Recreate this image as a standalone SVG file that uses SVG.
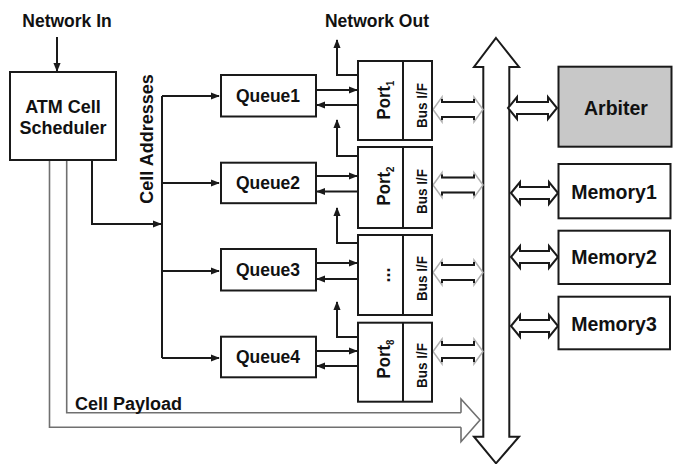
<svg xmlns="http://www.w3.org/2000/svg" width="673" height="464" viewBox="0 0 673 464">
<style>
.box{fill:#fff;stroke:#1a1a1a;stroke-width:2}
.gbox{fill:#c8c8c8;stroke:#1a1a1a;stroke-width:2}
.ln{fill:none;stroke:#1a1a1a;stroke-width:2}
.arr{fill:none;stroke:#1a1a1a;stroke-width:2;marker-end:url(#ah)}
.pay{fill:none;stroke:#707070;stroke-width:1.6}
.t{font-family:"Liberation Sans",Arial,sans-serif;font-weight:bold;fill:#111;text-anchor:middle}
.dbl{fill:#fff;stroke:#1a1a1a;stroke-width:2}
.dblg{fill:#fff;stroke:#b0b0b0;stroke-width:1.5}
</style>
<defs>
<marker id="ah" viewBox="0 0 10 10" refX="9" refY="5" markerWidth="4.5" markerHeight="4.5" orient="auto" markerUnits="strokeWidth">
<path d="M0,1 L10,5 L0,9 Z" fill="#1a1a1a"/>
</marker>
</defs>

<g id="connectors">
<!-- network in -->
<path class="arr" d="M57,37 V71"/>
<!-- cell addresses -->
<path class="arr" d="M92,160 V224 H161"/>
<path class="ln" d="M162,96 V358"/>
<path class="arr" d="M162,96 H219"/>
<path class="arr" d="M162,183 H219"/>
<path class="arr" d="M162,271 H219"/>
<path class="arr" d="M162,358 H219"/>
<!-- queue <-> port -->
<path class="arr" d="M316,90 H357"/>
<path class="arr" d="M358,105 H317"/>
<path class="arr" d="M316,176 H357"/>
<path class="arr" d="M358,191.5 H317"/>
<path class="arr" d="M316,263 H357"/>
<path class="arr" d="M358,279 H317"/>
<path class="arr" d="M316,351 H357"/>
<path class="arr" d="M358,366 H317"/>
<!-- network out -->
<path class="arr" d="M358,75 H337 V40"/>
<path class="arr" d="M358,156 H337 V120"/>
<path class="arr" d="M358,243 H337 V208"/>
<path class="arr" d="M358,337 H337 V302"/>
<!-- cell payload -->
<path class="pay" d="M49.5,160 V427.3 H461"/>
<path class="pay" d="M66.7,160 V412.7 H461"/>
<path class="pay" d="M461,412.7 V399 L480,420 L461,441.7 V427.3"/>
<!-- bus -->
<polygon class="dbl" points="496,38 519,67 509.3,67 509.3,436.7 519,436.7 496,463.3 474,436.7 483.3,436.7 483.3,67 474,67"/>
<!-- port to bus double arrows -->
<polygon class="dblg" points="433,109.5 442,97 442,102 474,102 474,97 483,109.5 474,122 474,117 442,117 442,122"/>
<path class="ln" d="M442,99 V102 H474 V99 M442,120 V117 H474 V120"/>
<polygon class="dblg" points="433,185 442,172.5 442,177.5 474,177.5 474,172.5 483,185 474,197.5 474,192.5 442,192.5 442,197.5"/>
<path class="ln" d="M442,174.5 V177.5 H474 V174.5 M442,195.5 V192.5 H474 V195.5"/>
<polygon class="dblg" points="433,272.5 442,260 442,265 474,265 474,260 483,272.5 474,285 474,280 442,280 442,285"/>
<path class="ln" d="M442,262 V265 H474 V262 M442,283 V280 H474 V283"/>
<polygon class="dblg" points="433,351.5 442,339 442,345 474,345 474,339 483,351.5 474,364 474,358 442,358 442,364"/>
<path class="ln" d="M442,341 V345 H474 V341 M442,362 V358 H474 V362"/>
<!-- bus to arbiter/memories -->
<polygon class="dbl" points="508,108 517,97 517,102 548,102 548,97 557,108 548,119 548,114 517,114 517,119"/>
<polygon class="dbl" points="511,193 520,182 520,187 549,187 549,182 558,193 549,204 549,199 520,199 520,204"/>
<polygon class="dbl" points="511,257 520,246 520,251 549,251 549,246 558,257 549,268 549,263 520,263 520,268"/>
<polygon class="dbl" points="511,326 520,315 520,320 549,320 549,315 558,326 549,337 549,332 520,332 520,337"/>
</g>

<g id="network-in"><text class="t" x="67" y="27" font-size="17.5">Network In</text></g>
<g id="network-out"><text class="t" x="377" y="26.5" font-size="17.5">Network Out</text></g>

<g id="scheduler">
<rect class="box" x="10" y="72" width="106" height="88"/>
<text class="t" x="63" y="112.5" font-size="18">ATM Cell</text>
<text class="t" x="63" y="133.5" font-size="18">Scheduler</text>
</g>

<g id="cell-addresses"><text class="t" font-size="18" transform="translate(153,139) rotate(-90)">Cell Addresses</text></g>

<g id="queue1"><rect class="box" x="221" y="75" width="95" height="41.5"/><text class="t" x="268" y="102" font-size="17.5">Queue1</text></g>
<g id="queue2"><rect class="box" x="221" y="162.7" width="95" height="40.5"/><text class="t" x="268" y="189" font-size="17.5">Queue2</text></g>
<g id="queue3"><rect class="box" x="221" y="249" width="95" height="41.5"/><text class="t" x="268" y="276" font-size="17.5">Queue3</text></g>
<g id="queue4"><rect class="box" x="221" y="336.7" width="95" height="40.6"/><text class="t" x="268" y="363" font-size="17.5">Queue4</text></g>

<g id="port1">
<rect class="box" x="358" y="61" width="74" height="79"/>
<path class="ln" d="M403,61 V140"/>
<text class="t" font-size="19" transform="translate(389.5,100) rotate(-90) scale(0.88,1)">Port<tspan font-size="11" dy="4">1</tspan></text>
<text class="t" font-size="15" transform="translate(427,105.5) rotate(-90) scale(0.9,1)">Bus I/F</text>
</g>
<g id="port2">
<rect class="box" x="358" y="147" width="74" height="81"/>
<path class="ln" d="M403,147 V228"/>
<text class="t" font-size="19" transform="translate(389.5,186) rotate(-90) scale(0.88,1)">Port<tspan font-size="11" dy="4">2</tspan></text>
<text class="t" font-size="15" transform="translate(427,191.5) rotate(-90) scale(0.9,1)">Bus I/F</text>
</g>
<g id="port3">
<rect class="box" x="358" y="235" width="74" height="80"/>
<path class="ln" d="M403,235 V315"/>
<text class="t" font-size="18" transform="translate(390,275) rotate(-90)">...</text>
<text class="t" font-size="15" transform="translate(427,278.5) rotate(-90) scale(0.9,1)">Bus I/F</text>
</g>
<g id="port8">
<rect class="box" x="358" y="322.7" width="74" height="79"/>
<path class="ln" d="M403,322.7 V401.7"/>
<text class="t" font-size="19" transform="translate(389.5,359) rotate(-90) scale(0.88,1)">Port<tspan font-size="11" dy="4">8</tspan></text>
<text class="t" font-size="15" transform="translate(427,365.5) rotate(-90) scale(0.9,1)">Bus I/F</text>
</g>

<g id="arbiter"><rect class="gbox" x="558.5" y="66.7" width="113" height="80"/><text class="t" x="616" y="114.5" font-size="19.5">Arbiter</text></g>
<g id="memory1"><rect class="box" x="558.5" y="164" width="112" height="54.3"/><text class="t" x="614" y="198.5" font-size="19.5">Memory1</text></g>
<g id="memory2"><rect class="box" x="558.5" y="230.7" width="111.5" height="53.3"/><text class="t" x="614" y="264.3" font-size="19.5">Memory2</text></g>
<g id="memory3"><rect class="box" x="558.5" y="296.7" width="111.5" height="52.6"/><text class="t" x="614" y="331" font-size="19.5">Memory3</text></g>

<g id="cell-payload"><text class="t" x="128.5" y="410" font-size="18">Cell Payload</text></g>
</svg>
